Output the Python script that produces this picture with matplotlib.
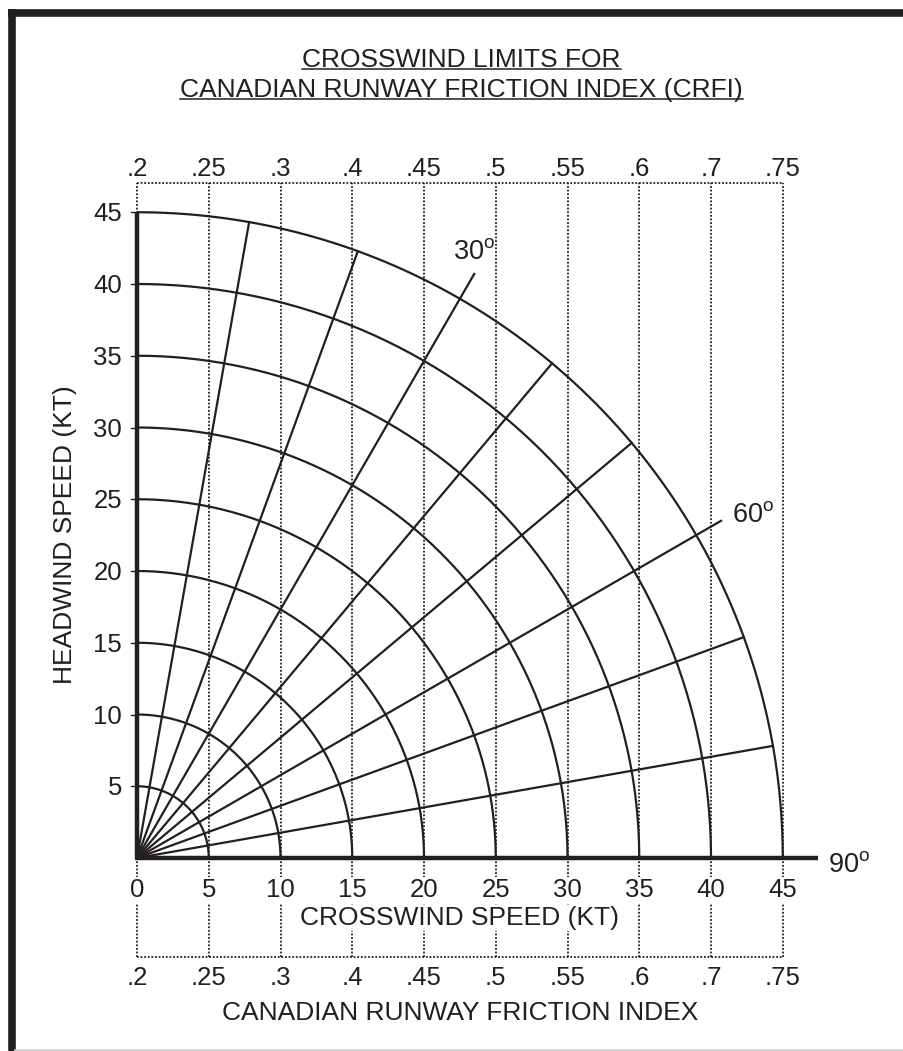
import numpy as np
import matplotlib
matplotlib.use("Agg")
import matplotlib.pyplot as plt
from matplotlib.lines import Line2D

plt.rcParams['font.family'] = ['Liberation Sans', 'DejaVu Sans']
plt.rcParams['mathtext.fontset'] = 'custom'
plt.rcParams['mathtext.rm'] = 'Liberation Sans'
plt.rcParams['mathtext.it'] = 'Liberation Sans:italic'
plt.rcParams['mathtext.bf'] = 'Liberation Sans:bold'

INK = '#231f20'

# chart values
wind_speeds = [5, 10, 15, 20, 25, 30, 35, 40, 45]          # arc radii (kt)
wind_angles = [10, 20, 30, 40, 50, 60, 70, 80]             # radial lines (deg off runway)
labeled_angles = [30, 60]
crosswind_ticks = [0, 5, 10, 15, 20, 25, 30, 35, 40, 45]
headwind_ticks = [5, 10, 15, 20, 25, 30, 35, 40, 45]
crfi_labels = ['.2', '.25', '.3', '.4', '.45', '.5', '.55', '.6', '.7', '.75']

title_lines = ['CROSSWIND LIMITS FOR', 'CANADIAN RUNWAY FRICTION INDEX (CRFI)']

W, H = 904, 1051
ox, oy, scale = 137, 858, 14.35   # origin pixel and px per knot

fig = plt.figure(figsize=(W / 100, H / 100), dpi=100)
ax = fig.add_axes([0, 0, 1, 1])
ax.set_xlim(-ox / scale, (W - ox) / scale)
ax.set_ylim((oy - H) / scale, oy / scale)
ax.axis('off')

rmax = max(wind_speeds)
top_y = 47.04
bot_y = -6.9

# dotted CRFI grid
dots = dict(color=INK, lw=1.3, linestyle=(0, (1, 1)), zorder=1)
for x in crosswind_ticks:
    ax.plot([x, x], [bot_y, top_y], **dots)
ax.plot([0, rmax], [top_y, top_y], **dots)
ax.plot([0, rmax], [bot_y, bot_y], **dots)

# arcs of constant wind speed
theta = np.radians(np.linspace(0, 90, 200))
for r in wind_speeds:
    ax.plot(r * np.sin(theta), r * np.cos(theta), color=INK, lw=1.6, zorder=2,
            solid_capstyle='butt')

# radial lines of wind direction
for a in wind_angles:
    r = 47 if a in labeled_angles else rmax
    t = np.radians(a)
    ax.plot([0, r * np.sin(t)], [0, r * np.cos(t)], color=INK, lw=1.6, zorder=2)

# axes
ax.plot([0, 0], [0, rmax], color=INK, lw=3.2, zorder=3, solid_capstyle='butt')
ax.plot([-0.15, 47.46], [0, 0], color=INK, lw=3.2, zorder=3, solid_capstyle='butt')
for y in headwind_ticks:
    ax.plot([-0.45, 0], [y, y], color=INK, lw=1.0, zorder=3)

fs_tick = 18.5
fs_lab = 19
wbox = dict(facecolor='white', edgecolor='none', pad=1)

for y in headwind_ticks:
    ax.text(-1.05, y - 0.63, str(y), ha='right', va='baseline', fontsize=fs_tick, color=INK)

for x, lab in zip(crosswind_ticks, crfi_labels):
    ax.text(x, -2.72, str(x), ha='center', va='baseline', fontsize=fs_tick, color=INK,
            bbox=wbox, zorder=4)
    ax.text(x, 47.53, lab, ha='center', va='baseline', fontsize=fs_tick, color=INK)
    ax.text(x, -8.85, lab, ha='center', va='baseline', fontsize=fs_tick, color=INK)

ax.text(22.5, -4.67, 'CROSSWIND SPEED (KT)', ha='center', va='baseline',
        fontsize=fs_lab, color=INK, bbox=wbox, zorder=4)
ax.text(22.5, -11.29, 'CANADIAN RUNWAY FRICTION INDEX', ha='center', va='baseline',
        fontsize=fs_lab, color=INK)
ax.text(-5.0, 22.5, 'HEADWIND SPEED (KT)', ha='center', va='center', rotation=90,
        fontsize=fs_lab, color=INK)

deg_fs = 19.5
ax.text(22.0, 41.74, r'30$^{\mathrm{o}}$', ha='left', va='baseline', fontsize=deg_fs, color=INK)
ax.text(41.46, 23.41, r'60$^{\mathrm{o}}$', ha='left', va='baseline', fontsize=deg_fs, color=INK)
ax.text(48.15, -0.98, r'90$^{\mathrm{o}}$', ha='left', va='baseline', fontsize=deg_fs, color=INK)

# underlined title
title_texts = []
for ty, line in zip([55.12, 53.03], title_lines):
    title_texts.append(ax.text(22.6, ty, line, ha='center', va='baseline',
                               fontsize=fs_lab, color=INK))
fig.canvas.draw()
rend = fig.canvas.get_renderer()
inv = ax.transData.inverted()
for t, ty in zip(title_texts, [55.12, 53.03]):
    bb = t.get_window_extent(rend)
    x0, _ = inv.transform((bb.x0, 0))
    x1, _ = inv.transform((bb.x1, 0))
    ax.plot([x0, x1], [ty - 0.17, ty - 0.17], color=INK, lw=1.1)

# page frame
fig.add_artist(Line2D([11.5 / W, 11.5 / W], [0, 1 - 9 / H], color=INK, lw=5.5,
                      transform=fig.transFigure, solid_capstyle='butt'))
fig.add_artist(Line2D([8 / W, 1], [1 - 12.5 / H, 1 - 12.5 / H], color=INK, lw=5.5,
                      transform=fig.transFigure, solid_capstyle='butt'))
fig.add_artist(Line2D([15 / W, 1], [1.5 / H, 1.5 / H], color='#cccccc', lw=1.2,
                      transform=fig.transFigure))

fig.savefig('out.png', dpi=100)
